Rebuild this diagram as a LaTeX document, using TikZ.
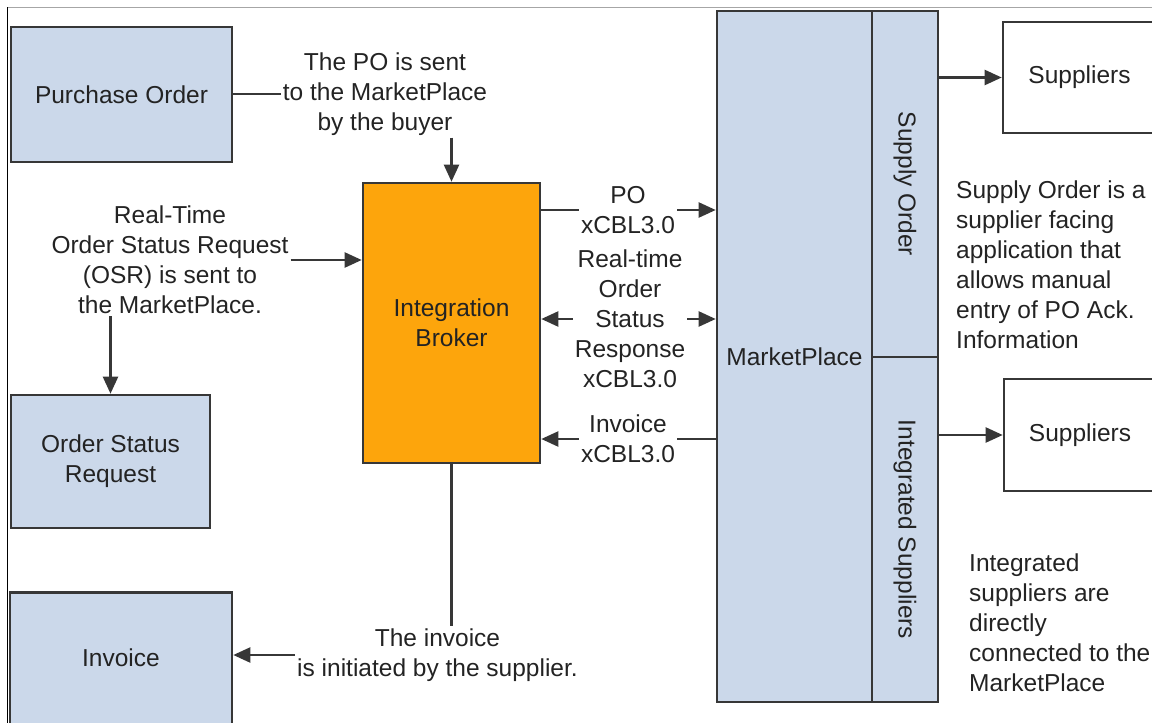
\documentclass[tikz,border=0pt]{standalone}
\usepackage{fontspec}
\setmainfont{Liberation Sans}
\usetikzlibrary{arrows.meta}
\definecolor{boxblue}{RGB}{203,216,234}
\definecolor{brokerorange}{RGB}{253,165,12}
\definecolor{edge}{RGB}{55,55,55}
\definecolor{ink}{RGB}{35,35,35}

\begin{document}
\begin{tikzpicture}[x=1pt,y=-1pt,
  every node/.style={font=\fontsize{24.5}{30}\selectfont, text=ink},
  box/.style={draw=edge, line width=2.6pt, inner sep=0pt, align=center},
  bluebox/.style={box, fill=boxblue},
  whitebox/.style={box, fill=white},
  note/.style={align=center, inner sep=2pt},
  flow/.style={draw=edge, line width=2.3pt, -{Triangle[length=17pt,width=15pt]}},
  link/.style={draw=edge, line width=2.3pt}]

\useasboundingbox (0,0) rectangle (1152,723);

% frame lines
\draw[gray!70, line width=1pt] (7,7) -- (1152,7);
\draw[black, line width=1pt] (7,7) -- (7,723);

% boxes
\node[bluebox, minimum width=221pt, minimum height=135pt] (po) at (121.5,94.5) {Purchase Order};
\node[bluebox, minimum width=199pt, minimum height=133pt] (osr) at (110.5,461.5) {Order Status\\Request};
\node[bluebox, minimum width=222pt, minimum height=150pt, anchor=north, text depth=19pt] (inv) at (121,591) {Invoice};
\node[box, fill=brokerorange, minimum width=177pt, minimum height=280pt] (ib) at (451.5,323) {Integration\\Broker};
\node[bluebox, minimum width=155pt, minimum height=691pt] (mp) at (794.5,356.5) {MarketPlace};
\node[bluebox, minimum width=66pt, minimum height=346pt] (so) at (905,184) {\rotatebox{-90}{Supply Order}};
\node[bluebox, minimum width=66pt, minimum height=345pt] (is) at (905,529.5) {\rotatebox{-90}{Integrated Suppliers}};
\node[whitebox, minimum width=153pt, minimum height=111pt] (sup1) at (1079.5,77.5) {Suppliers};
\node[whitebox, minimum width=152pt, minimum height=112pt] (sup2) at (1080,435) {Suppliers};

% notes
\node[note] (ponote) at (385,94) {The PO is sent\\to the MarketPlace\\by the buyer};
\node[note] (osrnote) at (170,260) {Real-Time\\Order Status Request\\(OSR) is sent to\\the MarketPlace.};
\node[note] (pox) at (628,210) {PO\\xCBL3.0};
\node[note] (resp) at (630,319) {Real-time\\Order\\Status\\Response\\xCBL3.0};
\node[note] (invx) at (628,439) {Invoice\\xCBL3.0};
\node[note] (invnote) at (437.5,655) {The invoice\\is initiated by the supplier.};
\node[note, align=left, anchor=west, inner sep=0pt] (sonote) at (956,265) {Supply Order is a\\supplier facing\\application that\\allows manual\\entry of PO Ack.\\Information};
\node[note, align=left, anchor=west, inner sep=0pt] (isnote) at (969,622.5) {Integrated\\suppliers are\\directly\\connected to the\\MarketPlace};

% connectors
\draw[link] (ponote.west -| po.east) -- (ponote.west);
\draw[flow] (ponote.south -| ib.north) -- (ib.north);
\draw[flow] (osrnote.east) -- (osrnote.east -| ib.west);
\draw[flow] (osrnote.south -| osr.north) -- (osr.north);
\draw[link] (pox.west -| ib.east) -- (pox.west);
\draw[flow] (pox.east) -- (pox.east -| mp.west);
\draw[flow] (resp.west) -- (resp.west -| ib.east);
\draw[flow] (resp.east) -- (resp.east -| mp.west);
\draw[link] (invx.east -| mp.west) -- (invx.east);
\draw[flow] (invx.west) -- (invx.west -| ib.east);
\draw[link] (ib.south) -- (invnote.north -| ib.south);
\draw[flow] (invnote.west) -- (invnote.west -| inv.east);
\draw[flow] (sup1.west -| so.east) -- (sup1.west);
\draw[flow] (sup2.west -| is.east) -- (sup2.west);
\end{tikzpicture}
\end{document}
